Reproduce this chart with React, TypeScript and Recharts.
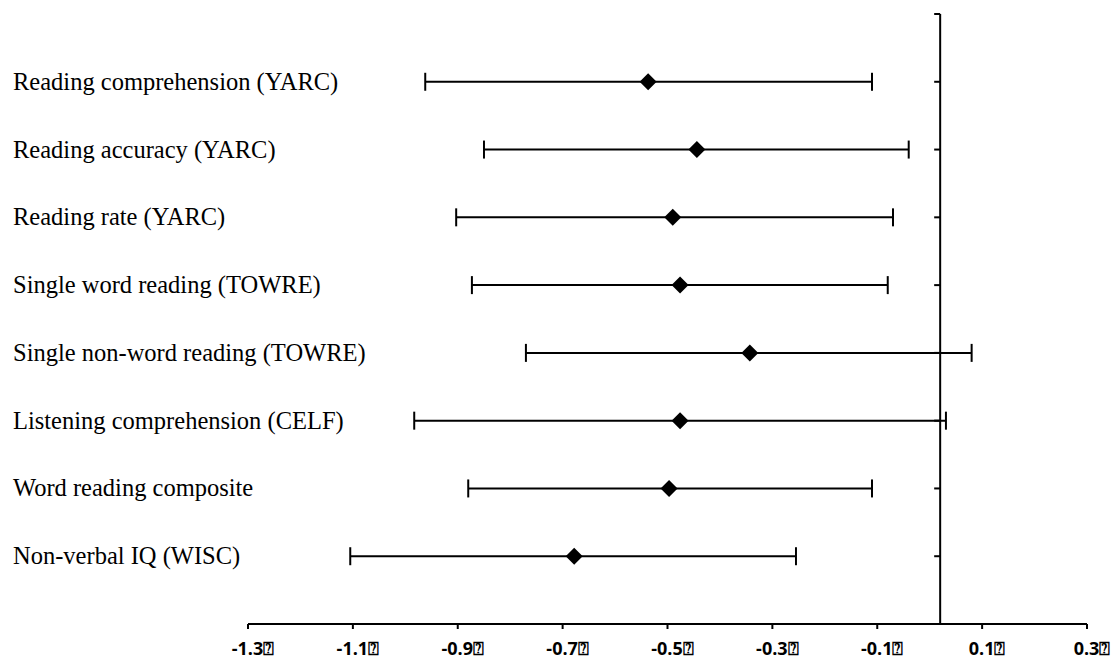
import React from 'react';
import {
  ScatterChart,
  Scatter,
  XAxis,
  YAxis,
  ErrorBar,
  ReferenceLine
} from 'recharts';

const categories = [
  'Reading comprehension (YARC)',
  'Reading accuracy (YARC)',
  'Reading rate (YARC)',
  'Single word reading (TOWRE)',
  'Single non-word reading (TOWRE)',
  'Listening comprehension (CELF)',
  'Word reading composite',
  'Non-verbal IQ (WISC)'
];
const means = [-0.537, -0.444, -0.49, -0.476, -0.343, -0.476, -0.497, -0.678];
const lows = [-0.962, -0.85, -0.903, -0.873, -0.77, -0.983, -0.88, -1.105];
const highs = [-0.11, -0.04, -0.07, -0.08, 0.08, 0.031, -0.11, -0.255];
const xTicks = [-1.3, -1.1, -0.9, -0.7, -0.5, -0.3, -0.1, 0.1, 0.3];
const rowTicks = [0, 1, 2, 3, 4, 5, 6, 7, 8, 9];
const crossAt = 0.02;

const rows = categories.map((name, i) => ({
  name,
  x: means[i],
  y: categories.length - i,
  err: [means[i] - lows[i], highs[i] - means[i]]
}));

const axisTicks = rowTicks.map((y) => ({ x: crossAt, y }));

const Diamond = (props: any) => {
  const { cx, cy } = props;
  const r = 8.5;
  return (
    <polygon
      points={`${cx},${cy - r} ${cx + r},${cy} ${cx},${cy + r} ${cx - r},${cy}`}
      fill="#000"
    />
  );
};

const AxisTick = (props: any) => {
  const { cx, cy } = props;
  return <line x1={cx - 6} y1={cy} x2={cx} y2={cy} stroke="#000" strokeWidth={2} />;
};

const CategoryLabel = (props: any) => {
  const { y, payload } = props;
  const label = categories[categories.length - payload.value];
  return (
    <text
      x={13}
      y={y}
      dy={8}
      textAnchor="start"
      fontFamily="'Liberation Serif', 'Times New Roman', serif"
      fontSize={24.5}
      fill="#000"
    >
      {label}
    </text>
  );
};

const ValueLabel = (props: any) => {
  const { x, y, payload } = props;
  return (
    <text
      x={x}
      y={y}
      dx={5}
      dy={24}
      textAnchor="middle"
      fontFamily="'Open Sans', sans-serif"
      fontWeight="bold"
      fontSize={18}
      fill="#000"
    >
      {payload.value.toFixed(1) + '⍰'}
    </text>
  );
};

export default function App() {
  return (
    <div style={{ position: 'absolute', left: 0, top: 0, width: 1117, height: 662, background: '#fff', overflow: 'hidden' }}>
      <ScatterChart width={1117} height={662} margin={{ top: 14, right: 30, bottom: 0, left: 0 }}>
        <XAxis
          type="number"
          dataKey="x"
          domain={[-1.3, 0.3]}
          ticks={xTicks}
          height={38}
          axisLine={{ stroke: '#000', strokeWidth: 2 }}
          tickLine={{ stroke: '#000', strokeWidth: 2 }}
          tickSize={5}
          tick={<ValueLabel />}
          interval={0}
          allowDataOverflow
        />
        <YAxis
          type="number"
          dataKey="y"
          domain={[0, 9]}
          ticks={[1, 2, 3, 4, 5, 6, 7, 8]}
          width={248}
          axisLine={false}
          tickLine={false}
          tick={<CategoryLabel />}
          interval={0}
        />
        <ReferenceLine x={crossAt} stroke="#000" strokeWidth={2} />
        <Scatter data={axisTicks} shape={<AxisTick />} isAnimationActive={false} />
        <Scatter data={rows} shape={<Diamond />} isAnimationActive={false}>
          <ErrorBar dataKey="err" direction="x" width={9} stroke="#000" strokeWidth={2} />
        </Scatter>
      </ScatterChart>
    </div>
  );
}
